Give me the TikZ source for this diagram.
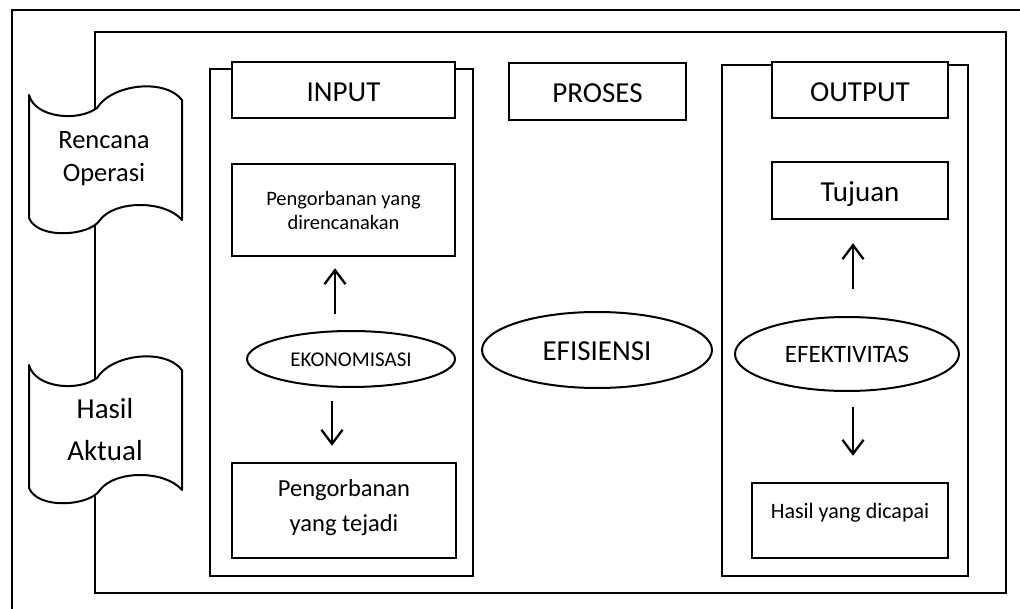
\documentclass[tikz,border=0pt]{standalone}
\usepackage{fontspec}
\setmainfont{Carlito}
\usetikzlibrary{shapes.geometric,arrows.meta,calc}
\newcommand\fsz[2]{\fontsize{#1}{#2}\selectfont}
\newcommand\sarrow[2]{\draw[shadowarr] #1 -- #2; \draw[arr] #1 -- #2;}
\begin{document}
\begin{tikzpicture}[x=1pt,y=-1pt,
  frame/.style={draw,line width=2.6pt},
  box/.style={draw,line width=2.6pt,fill=white,rectangle,inner sep=0pt,align=center},
  capbox/.style={box,text height=23pt,text depth=0pt},
  oval/.style={draw,line width=2pt,ellipse,inner sep=0pt,fill=white},
  wave/.style={draw,line width=2pt,fill=white,line join=round},
  arr/.style={line width=2.2pt,-{Straight Barb[length=14pt,width=21pt]}},
  shadowarr/.style={arr,draw=black!35,xshift=1pt,yshift=-2.5pt},
  lbl/.style={align=center,inner sep=0pt},
  wavepic/.pic={
    \draw[wave] (29,95) .. controls (35,118) and (78,122) .. (97,108)
      .. controls (112,84) and (165,78) .. (182,100) -- (182,220)
      .. controls (165,200) and (115,200) .. (100,220)
      .. controls (90,236) and (38,240) .. (29,218) -- cycle;
  }]
\useasboundingbox (0,0) rectangle (1020,609);
\clip (0,0) rectangle (1020,609);
\fill[white] (0,0) rectangle (1020,609);
% frames
\draw[frame] (12,10) rectangle (1060,650);
\draw[frame] (95,32) rectangle (1006,593);
% waves
\pic at (0,0) {wavepic};
\pic at (0,270) {wavepic};
\node[lbl,font=\fsz{26.5}{33}] (rencana) at (104,159) {Rencana\\Operasi};
\node[lbl,font=\fsz{29}{42}] (hasilaktual) at (105,430) {Hasil\\Aktual};
% panels
\draw[frame] (210,69) rectangle (473,576);
\draw[frame] (722,65) rectangle (968,576);
% INPUT column
\node[capbox,minimum width=223pt,minimum height=56pt,font=\fsz{29}{34}] (input) at (343.5,90) {INPUT};
\node[box,minimum width=223pt,minimum height=92pt,font=\fsz{20.5}{24}] (plan) at (343.5,210) {Pengorbanan yang\\direncanakan};
\node[oval,minimum width=208pt,minimum height=56pt,font=\fsz{21}{24},text height=16pt,text depth=0pt] (ekon) at (351,359) {EKONOMISASI};
\node[box,minimum width=224pt,minimum height=95pt,font=\fsz{24.5}{35},text depth=10pt] (actual) at (344,510.5) {Pengorbanan\\yang tejadi};
% PROSES column
\node[capbox,minimum width=177pt,minimum height=57pt,font=\fsz{29}{34}] (proses) at (597.5,91.5) {PROSES};
\node[oval,minimum width=230pt,minimum height=76pt,font=\fsz{29}{34},text height=21pt,text depth=0pt] (efis) at (597,350) {EFISIENSI};
% OUTPUT column
\node[capbox,minimum width=176pt,minimum height=56pt,font=\fsz{29}{34}] (output) at (860,90) {OUTPUT};
\node[capbox,minimum width=176pt,minimum height=57pt,font=\fsz{29}{34}] (tujuan) at (860,190.5) {Tujuan};
\node[oval,minimum width=224pt,minimum height=74pt,font=\fsz{25}{29}] (efek) at (847,354) {EFEKTIVITAS};
\node[box,minimum width=196pt,minimum height=75pt,font=\fsz{22}{25},text depth=19pt] (hasil) at (850,520.5) {Hasil yang dicapai};
% arrows
\coordinate (xa) at (335,0);
\coordinate (xb) at (332,0);
\coordinate (xc) at (853,0);
\sarrow{($(ekon.north -| xa)+(0,-16)$)}{($(plan.south -| xa)+(0,11)$)}
\sarrow{($(ekon.south -| xb)+(0,13)$)}{($(actual.north -| xb)+(0,-16)$)}
\sarrow{($(efek.north -| xc)+(0,-27)$)}{($(tujuan.south -| xc)+(0,23)$)}
\sarrow{($(efek.south -| xc)+(0,15)$)}{($(hasil.north -| xc)+(0,-26)$)}
\end{tikzpicture}
\end{document}
